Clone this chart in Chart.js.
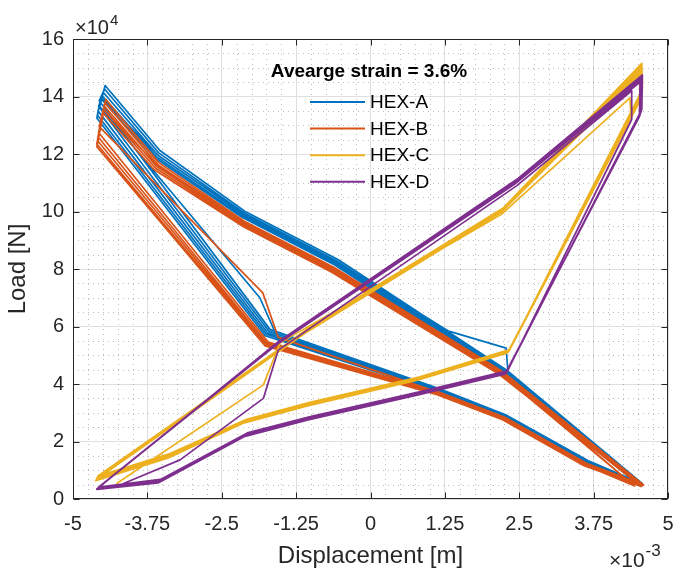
<!DOCTYPE html>
<html>
<head>
<meta charset="utf-8">
<title>Load vs displacement</title>
<script src="https://cdn.jsdelivr.net/npm/chart.js@4/dist/chart.umd.min.js"></script>
<style>
  html, body { margin: 0; padding: 0; background: #fff; }
  canvas { display: block; }
</style>
</head>
<body>
<canvas id="grafico" width="673" height="571"></canvas>
<script>
// displacement in units of 1e-3 m, load in units of 1e4 N
const xTicks = [-5, -3.75, -2.5, -1.25, 0, 1.25, 2.5, 3.75, 5]
const yTicks = [0, 2, 4, 6, 8, 10, 12, 14, 16]

const legendTitle = 'Avearge strain = 3.6%'
const labels = ['HEX-A', 'HEX-B', 'HEX-C', 'HEX-D']
const colors = ['#0072BD', '#D95319', '#EDB120', '#7E2F8E']

// each specimen: consecutive loading cycles, [displacement, load]
const hexA = [
  [-4.50, 13.90], [-3.55, 11.92], [-2.10, 9.86], [-0.55, 8.24], [1.30, 5.85], [2.28, 5.25], [2.31, 4.40],
  [4.56, 0.50], [3.65, 1.30], [2.26, 2.90], [1.15, 3.80], [-1.55, 5.55], [-1.86, 7.00], [-4.55, 13.65],
  [-4.46, 14.38], [-3.54, 12.12], [-2.09, 9.98], [-0.54, 8.32], [2.29, 4.48], [4.57, 0.53],
  [3.66, 1.33], [2.27, 2.93], [1.16, 3.83], [-1.69, 5.90], [-4.56, 13.85],
  [-4.47, 14.26], [-3.56, 12.04], [-2.11, 9.93], [-0.56, 8.27], [2.28, 4.43], [4.56, 0.51],
  [3.65, 1.30], [2.26, 2.90], [1.15, 3.80], [-1.71, 5.84], [-4.57, 13.66],
  [-4.49, 14.14], [-3.58, 11.97], [-2.12, 9.88], [-0.57, 8.22], [2.27, 4.38], [4.55, 0.49],
  [3.64, 1.27], [2.25, 2.87], [1.14, 3.77], [-1.73, 5.78], [-4.58, 13.50],
  [-4.51, 14.02], [-3.60, 11.91], [-2.14, 9.84], [-0.58, 8.18], [2.26, 4.34], [4.54, 0.47],
  [3.63, 1.25], [2.24, 2.85], [1.13, 3.75], [-1.75, 5.73], [-4.59, 13.36],
  [-4.53, 13.92], [-3.62, 11.86], [-2.16, 9.80], [-0.60, 8.14], [2.25, 4.30], [4.53, 0.46],
  [3.62, 1.23], [2.23, 2.83], [1.12, 3.73], [-1.77, 5.68], [-4.60, 13.25], [-4.54, 13.85]
]

const hexB = [
  [-4.48, 13.55], [-3.58, 11.58], [-2.12, 9.62], [-0.62, 8.02], [2.19, 4.45], [4.58, 0.48],
  [3.62, 1.22], [2.25, 2.82], [1.15, 3.70], [-1.55, 5.62], [-1.81, 7.17], [-4.56, 12.95],
  [-4.45, 13.90], [-3.56, 11.70], [-2.12, 9.66], [-0.61, 8.05], [2.20, 4.46], [4.59, 0.49],
  [3.63, 1.24], [2.26, 2.84], [1.16, 3.71], [-1.72, 5.46], [-4.57, 12.75],
  [-4.46, 13.78], [-3.58, 11.64], [-2.13, 9.62], [-0.62, 8.01], [2.19, 4.43], [4.42, 0.47],
  [3.62, 1.22], [2.25, 2.82], [1.15, 3.69], [-1.74, 5.42], [-4.58, 12.60],
  [-4.47, 13.66], [-3.60, 11.58], [-2.14, 9.58], [-0.63, 7.97], [2.18, 4.40], [4.57, 0.46],
  [3.61, 1.20], [2.24, 2.80], [1.14, 3.67], [-1.75, 5.38], [-4.59, 12.47],
  [-4.48, 13.54], [-3.62, 11.52], [-2.15, 9.54], [-0.64, 7.93], [2.17, 4.37], [4.44, 0.45],
  [3.60, 1.18], [2.23, 2.78], [1.13, 3.65], [-1.76, 5.35], [-4.60, 12.35],
  [-4.49, 13.42], [-3.64, 11.46], [-2.16, 9.50], [-0.65, 7.89], [2.16, 4.34], [4.55, 0.44],
  [3.59, 1.16], [2.22, 2.76], [1.12, 3.63], [-1.77, 5.32], [-4.60, 12.25], [-4.50, 13.30]
]

const hexC = [
  [-4.26, 0.55], [-1.80, 3.97], [-1.52, 5.43], [2.20, 9.90], [4.36, 13.95], [4.38, 13.25],
  [2.33, 5.15], [0.83, 4.22], [-1.02, 3.32], [-2.08, 2.74], [-3.37, 1.52], [-4.58, 0.72],
  [-1.02, 5.98], [2.23, 10.12], [4.56, 15.15], [4.57, 14.25], [2.34, 5.20], [0.83, 4.25],
  [-1.02, 3.36], [-2.08, 2.77], [-3.37, 1.58], [-4.58, 0.80],
  [-1.03, 5.94], [2.22, 10.08], [4.55, 15.05], [4.56, 14.15], [2.33, 5.17], [0.82, 4.22],
  [-1.03, 3.33], [-2.09, 2.74], [-3.38, 1.54], [-4.59, 0.76],
  [-1.04, 5.90], [2.21, 10.04], [4.54, 14.95], [4.55, 14.05], [2.32, 5.14], [0.81, 4.19],
  [-1.04, 3.30], [-2.10, 2.71], [-3.39, 1.50], [-4.60, 0.72],
  [-1.05, 5.86], [2.20, 10.00], [4.53, 14.85], [4.54, 13.95], [2.31, 5.11], [0.80, 4.16],
  [-1.05, 3.27], [-2.11, 2.68], [-3.40, 1.46], [-4.61, 0.68],
  [-1.06, 5.82], [2.19, 9.96], [4.52, 14.75], [4.53, 13.85], [2.30, 5.08], [0.79, 4.13],
  [-1.06, 3.24], [-2.12, 2.65], [-3.41, 1.42], [-4.62, 0.64]
]

const hexD = [
  [-4.21, 0.49], [-3.20, 1.36], [-1.80, 3.50], [-1.55, 5.18], [2.46, 10.90], [4.39, 14.20], [4.39, 13.20],
  [2.29, 4.40], [0.83, 3.70], [-1.02, 2.83], [-2.08, 2.26], [-3.54, 0.64], [-4.58, 0.38],
  [-1.55, 5.47], [2.46, 11.12], [4.57, 14.75], [4.56, 13.55], [2.30, 4.46], [0.84, 3.74],
  [-1.01, 2.87], [-2.07, 2.30], [-3.53, 0.68], [-4.57, 0.41],
  [-1.55, 5.45], [2.46, 11.08], [4.56, 14.68], [4.55, 13.48], [2.29, 4.43], [0.83, 3.71],
  [-1.02, 2.84], [-2.08, 2.27], [-3.54, 0.65], [-4.58, 0.39],
  [-1.56, 5.42], [2.45, 11.04], [4.55, 14.62], [4.54, 13.42], [2.28, 4.40], [0.82, 3.68],
  [-1.03, 2.81], [-2.09, 2.24], [-3.55, 0.62], [-4.59, 0.37],
  [-1.57, 5.39], [2.44, 11.00], [4.54, 14.56], [4.53, 13.36], [2.27, 4.37], [0.81, 3.65],
  [-1.04, 2.78], [-2.10, 2.21], [-3.56, 0.59], [-4.60, 0.35],
  [-1.58, 5.36], [2.43, 10.96], [4.53, 14.50], [4.52, 13.30], [2.26, 4.34], [0.80, 3.62],
  [-1.05, 2.75], [-2.11, 2.18], [-3.57, 0.56], [-4.60, 0.33]
]

const series = [hexA, hexB, hexC, hexD]

const FONT = '"Liberation Sans", Arial, Helvetica, sans-serif'
const AXIS = '#262626'

// dotted minor grid, box with inward ticks, exponents and legend
const moldura = {
  id: 'moldura',
  beforeDatasetsDraw(chart) {
    const { ctx, chartArea: a, scales: { x, y } } = chart
    ctx.save()
    ctx.strokeStyle = 'rgba(0,0,0,0.26)'
    ctx.lineWidth = 1
    ctx.setLineDash([1, 4])
    for (let i = 0; i < xTicks.length - 1; i++) {
      for (let k = 1; k < 5; k++) {
        const v = xTicks[i] + (xTicks[i + 1] - xTicks[i]) * k / 5
        const px = Math.round(x.getPixelForValue(v)) + 0.5
        ctx.beginPath(); ctx.moveTo(px, a.top); ctx.lineTo(px, a.bottom); ctx.stroke()
      }
    }
    for (let i = 0; i < yTicks.length - 1; i++) {
      for (let k = 1; k < 4; k++) {
        const v = yTicks[i] + (yTicks[i + 1] - yTicks[i]) * k / 4
        const py = Math.round(y.getPixelForValue(v)) + 0.5
        ctx.beginPath(); ctx.moveTo(a.left, py); ctx.lineTo(a.right, py); ctx.stroke()
      }
    }
    ctx.restore()
  },
  afterDatasetsDraw(chart) {
    const { ctx, chartArea: a, scales: { x, y } } = chart
    const L = Math.round(a.left) + 0.5, R = Math.round(a.right) - 0.5
    const T = Math.round(a.top) + 0.5, B = Math.round(a.bottom) - 0.5
    ctx.save()
    ctx.strokeStyle = AXIS
    ctx.lineWidth = 1
    ctx.strokeRect(L, T, R - L, B - T)
    ctx.beginPath()
    xTicks.forEach(v => {
      const px = Math.round(x.getPixelForValue(v)) + 0.5
      ctx.moveTo(px, B); ctx.lineTo(px, B - 6)
      ctx.moveTo(px, T); ctx.lineTo(px, T + 6)
    })
    yTicks.forEach(v => {
      const py = Math.round(y.getPixelForValue(v)) + 0.5
      ctx.moveTo(L, py); ctx.lineTo(L + 6, py)
      ctx.moveTo(R, py); ctx.lineTo(R - 6, py)
    })
    ctx.stroke()
    ctx.restore()
  },
  afterDraw(chart) {
    const { ctx, chartArea: a } = chart
    ctx.save()
    ctx.fillStyle = AXIS
    ctx.textBaseline = 'alphabetic'
    ctx.textAlign = 'left'

    // x10^4 above the y axis
    ctx.font = '20px ' + FONT
    ctx.fillText('\u00d710', a.left + 2, a.top - 5)
    let w = ctx.measureText('\u00d710').width
    ctx.font = '15px ' + FONT
    ctx.fillText('4', a.left + 2 + w + 1, a.top - 14)

    // x10^-3 under the x axis
    ctx.font = '21px ' + FONT
    w = ctx.measureText('\u00d710').width
    const x0 = a.right - 59
    ctx.fillText('\u00d710', x0, 567)
    ctx.font = '17px ' + FONT
    ctx.fillText('-3', x0 + w + 1, 556)

    // legend
    ctx.fillStyle = '#000'
    ctx.textAlign = 'center'
    ctx.textBaseline = 'middle'
    ctx.font = 'bold 19px ' + FONT
    ctx.fillText(legendTitle, 369, 72)
    ctx.textAlign = 'left'
    ctx.font = '19px ' + FONT
    chart.data.datasets.forEach((ds, i) => {
      const yy = 102 + i * 26.6
      ctx.strokeStyle = ds.borderColor
      ctx.lineWidth = 2
      ctx.beginPath(); ctx.moveTo(310, yy); ctx.lineTo(365, yy); ctx.stroke()
      ctx.fillText(ds.label, 370, yy + 1)
    })
    ctx.restore()
  }
}

const data = {
  datasets: series.map((pts, i) => ({
    label: labels[i],
    data: pts.map(([x, y]) => ({ x, y })),
    showLine: true,
    borderColor: colors[i],
    backgroundColor: colors[i],
    borderWidth: 1.7,
    borderJoinStyle: 'round',
    borderCapStyle: 'round',
    pointRadius: 0,
    pointHoverRadius: 0,
    tension: 0,
    order: series.length - i
  }))
}

const config = {
  type: 'scatter',
  data,
  options: {
    responsive: false,
    animation: false,
    events: [],
    layout: { padding: { top: 39, right: 5, left: 0, bottom: 0 } },
    plugins: { legend: { display: false }, tooltip: { enabled: false } },
    scales: {
      x: {
        type: 'linear',
        min: -5,
        max: 5,
        afterBuildTicks: s => { s.ticks = xTicks.map(v => ({ value: v })) },
        afterFit: s => { s.height = 72; s.paddingLeft = 0; s.paddingRight = 0 },
        ticks: {
          autoSkip: false,
          maxRotation: 0,
          padding: 13,
          color: AXIS,
          font: { family: FONT, size: 20 },
          callback: v => String(v)
        },
        grid: { color: '#dfdfdf', drawTicks: false },
        border: { display: false },
        title: {
          display: true,
          text: 'Displacement [m]',
          color: AXIS,
          font: { family: FONT, size: 24 },
          padding: { top: 0, bottom: 0 }
        }
      },
      y: {
        type: 'linear',
        min: 0,
        max: 16,
        afterBuildTicks: s => { s.ticks = yTicks.map(v => ({ value: v })) },
        afterFit: s => { s.width = 73 },
        ticks: {
          autoSkip: false,
          padding: 9,
          color: AXIS,
          font: { family: FONT, size: 20 },
          callback: v => String(v)
        },
        grid: { color: '#dfdfdf', drawTicks: false },
        border: { display: false },
        title: {
          display: true,
          text: 'Load [N]',
          color: AXIS,
          font: { family: FONT, size: 24 },
          padding: { top: 4, bottom: 0 }
        }
      }
    }
  },
  plugins: [moldura]
}

const graph = new Chart(document.getElementById('grafico'), config)
</script>
</body>
</html>
